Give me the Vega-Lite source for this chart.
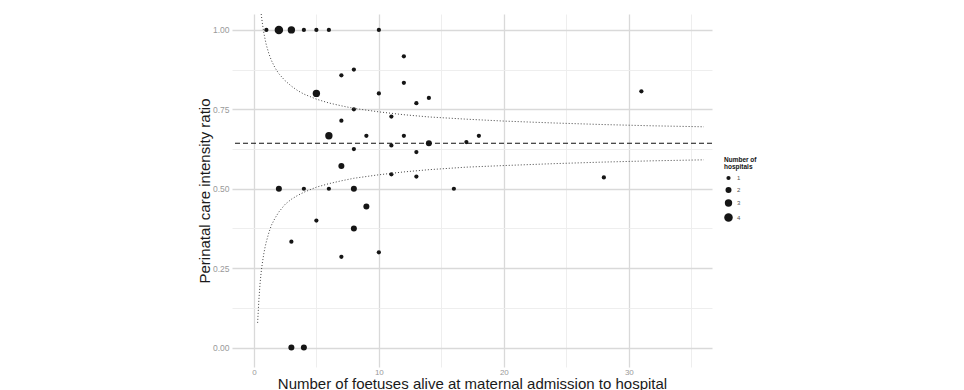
{
  "$schema": "https://vega.github.io/schema/vega-lite/v6.json",
  "width": 480,
  "height": 353,
  "autosize": {"type": "none"},
  "padding": {"left": 232, "top": 14, "right": 252, "bottom": 23},
  "background": "white",
  "config": {"view": {"stroke": null}, "font": "Liberation Sans"},
  "datasets": {
    "points": [
      {"x": 1, "y": 1.0, "n": 1}, {"x": 2, "y": 1.0, "n": 4}, {"x": 3, "y": 1.0, "n": 3},
      {"x": 4, "y": 1.0, "n": 1}, {"x": 5, "y": 1.0, "n": 1}, {"x": 6, "y": 1.0, "n": 1},
      {"x": 10, "y": 1.0, "n": 1}, {"x": 12, "y": 0.9167, "n": 1}, {"x": 7, "y": 0.8571, "n": 1},
      {"x": 8, "y": 0.875, "n": 1}, {"x": 5, "y": 0.8, "n": 3}, {"x": 10, "y": 0.8, "n": 1},
      {"x": 12, "y": 0.8333, "n": 1}, {"x": 13, "y": 0.7692, "n": 1}, {"x": 14, "y": 0.7857, "n": 1},
      {"x": 8, "y": 0.75, "n": 1}, {"x": 11, "y": 0.7273, "n": 1}, {"x": 7, "y": 0.7143, "n": 1},
      {"x": 31, "y": 0.8065, "n": 1}, {"x": 6, "y": 0.6667, "n": 3}, {"x": 9, "y": 0.6667, "n": 1},
      {"x": 12, "y": 0.6667, "n": 1}, {"x": 18, "y": 0.6667, "n": 1}, {"x": 11, "y": 0.6364, "n": 1},
      {"x": 14, "y": 0.6429, "n": 2}, {"x": 17, "y": 0.6471, "n": 1}, {"x": 8, "y": 0.625, "n": 1},
      {"x": 13, "y": 0.6154, "n": 1}, {"x": 7, "y": 0.5714, "n": 2}, {"x": 11, "y": 0.5455, "n": 1},
      {"x": 13, "y": 0.5385, "n": 1}, {"x": 28, "y": 0.5357, "n": 1}, {"x": 2, "y": 0.5, "n": 2},
      {"x": 4, "y": 0.5, "n": 1}, {"x": 6, "y": 0.5, "n": 1}, {"x": 8, "y": 0.5, "n": 2},
      {"x": 16, "y": 0.5, "n": 1}, {"x": 9, "y": 0.4444, "n": 2}, {"x": 5, "y": 0.4, "n": 1},
      {"x": 8, "y": 0.375, "n": 2}, {"x": 3, "y": 0.3333, "n": 1}, {"x": 10, "y": 0.3, "n": 1},
      {"x": 7, "y": 0.2857, "n": 1}, {"x": 3, "y": 0.0, "n": 2}, {"x": 4, "y": 0.0, "n": 2}
    ],
    "limits": [
      {"x": 0.3, "y": 1.21, "bound": "upper"}, {"x": 0.4, "y": 1.135, "bound": "upper"},
      {"x": 0.5, "y": 1.083, "bound": "upper"}, {"x": 0.6, "y": 1.045, "bound": "upper"},
      {"x": 0.7, "y": 1.015, "bound": "upper"}, {"x": 0.8, "y": 0.99, "bound": "upper"},
      {"x": 0.9, "y": 0.97, "bound": "upper"}, {"x": 1.0, "y": 0.952, "bound": "upper"},
      {"x": 1.2, "y": 0.925, "bound": "upper"}, {"x": 1.4, "y": 0.904, "bound": "upper"},
      {"x": 1.7, "y": 0.88, "bound": "upper"}, {"x": 2, "y": 0.862, "bound": "upper"},
      {"x": 2.5, "y": 0.84, "bound": "upper"}, {"x": 3, "y": 0.823, "bound": "upper"},
      {"x": 3.5, "y": 0.809, "bound": "upper"}, {"x": 4, "y": 0.798, "bound": "upper"},
      {"x": 5, "y": 0.782, "bound": "upper"}, {"x": 6, "y": 0.77, "bound": "upper"},
      {"x": 7, "y": 0.761, "bound": "upper"}, {"x": 8, "y": 0.753, "bound": "upper"},
      {"x": 10, "y": 0.742, "bound": "upper"}, {"x": 12, "y": 0.733, "bound": "upper"},
      {"x": 14, "y": 0.726, "bound": "upper"}, {"x": 17, "y": 0.719, "bound": "upper"},
      {"x": 20, "y": 0.713, "bound": "upper"}, {"x": 24, "y": 0.707, "bound": "upper"},
      {"x": 28, "y": 0.702, "bound": "upper"}, {"x": 32, "y": 0.698, "bound": "upper"},
      {"x": 36, "y": 0.695, "bound": "upper"},
      {"x": 0.3, "y": 0.078, "bound": "lower"}, {"x": 0.4, "y": 0.15, "bound": "lower"},
      {"x": 0.5, "y": 0.205, "bound": "lower"}, {"x": 0.6, "y": 0.243, "bound": "lower"},
      {"x": 0.7, "y": 0.272, "bound": "lower"}, {"x": 0.8, "y": 0.297, "bound": "lower"},
      {"x": 0.9, "y": 0.317, "bound": "lower"}, {"x": 1.0, "y": 0.334, "bound": "lower"},
      {"x": 1.2, "y": 0.362, "bound": "lower"}, {"x": 1.4, "y": 0.385, "bound": "lower"},
      {"x": 1.7, "y": 0.408, "bound": "lower"}, {"x": 2, "y": 0.427, "bound": "lower"},
      {"x": 2.5, "y": 0.451, "bound": "lower"}, {"x": 3, "y": 0.467, "bound": "lower"},
      {"x": 3.5, "y": 0.479, "bound": "lower"}, {"x": 4, "y": 0.489, "bound": "lower"},
      {"x": 5, "y": 0.505, "bound": "lower"}, {"x": 6, "y": 0.516, "bound": "lower"},
      {"x": 7, "y": 0.525, "bound": "lower"}, {"x": 8, "y": 0.533, "bound": "lower"},
      {"x": 10, "y": 0.544, "bound": "lower"}, {"x": 12, "y": 0.553, "bound": "lower"},
      {"x": 14, "y": 0.56, "bound": "lower"}, {"x": 17, "y": 0.568, "bound": "lower"},
      {"x": 20, "y": 0.573, "bound": "lower"}, {"x": 24, "y": 0.579, "bound": "lower"},
      {"x": 28, "y": 0.584, "bound": "lower"}, {"x": 32, "y": 0.588, "bound": "lower"},
      {"x": 36, "y": 0.591, "bound": "lower"}
    ],
    "mean": [{"y": 0.643}]
  },
  "layer": [
    {
      "data": {"name": "points"},
      "mark": {"type": "circle", "color": "#151515", "opacity": 1},
      "encoding": {
        "x": {
          "field": "x", "type": "quantitative",
          "scale": {"domain": [-1.75, 36.65], "nice": false, "zero": false},
          "axis": {
            "values": [0, 5, 10, 15, 20, 25, 30, 35],
            "labelExpr": "datum.value % 10 === 0 ? datum.label : ''",
            "labelOverlap": false,
            "title": "Number of foetuses alive at maternal admission to hospital",
            "domain": false, "ticks": false,
            "labelFontSize": 8, "labelColor": "#9a9a9a", "labelPadding": 1,
            "titleFontSize": 15, "titleFontWeight": "normal", "titleColor": "#1a1a1a", "titlePadding": 0,
            "gridColor": {"condition": {"test": "datum.value % 10 === 0", "value": "#d9d9d9"}, "value": "#ececec"},
            "gridWidth": {"condition": {"test": "datum.value % 10 === 0", "value": 1.3}, "value": 0.9}
          }
        },
        "y": {
          "field": "y", "type": "quantitative",
          "scale": {"domain": [-0.061, 1.05], "nice": false, "zero": false},
          "axis": {
            "values": [0, 0.125, 0.25, 0.375, 0.5, 0.625, 0.75, 0.875, 1],
            "labelExpr": "datum.value % 0.25 === 0 ? format(datum.value, '.2f') : ''",
            "labelOverlap": false,
            "title": "Perinatal care intensity ratio",
            "domain": false, "ticks": false,
            "labelFontSize": 8.5, "labelColor": "#999999", "labelPadding": 3,
            "titleFontSize": 15, "titleFontWeight": "normal", "titleColor": "#1a1a1a", "titlePadding": 0,
            "gridColor": {"condition": {"test": "datum.value % 0.25 === 0", "value": "#d9d9d9"}, "value": "#ececec"},
            "gridWidth": {"condition": {"test": "datum.value % 0.25 === 0", "value": 1.3}, "value": 0.9}
          }
        },
        "size": {
          "field": "n", "type": "quantitative",
          "scale": {"domain": [0, 4], "range": [0, 72]},
          "legend": {
            "title": ["Number of", "hospitals"],
            "values": [1, 2, 3, 4],
            "orient": "none", "legendX": 492, "legendY": 143,
            "titleFontSize": 6.5, "titleFontWeight": "bold", "titleColor": "#111", "titleLineHeight": 6.5,
            "titlePadding": 5,
            "labelFontSize": 6, "labelColor": "#555", "labelOffset": 4,
            "symbolFillColor": "#151515", "symbolStrokeWidth": 0, "symbolOpacity": 1,
            "rowPadding": 6
          }
        }
      }
    },
    {
      "data": {"name": "limits"},
      "mark": {"type": "line", "clip": true, "strokeDash": [1, 2], "color": "#444", "strokeWidth": 1},
      "encoding": {
        "x": {"field": "x", "type": "quantitative", "scale": {"domain": [-1.75, 36.65], "nice": false, "zero": false}},
        "y": {"field": "y", "type": "quantitative", "scale": {"domain": [-0.061, 1.05], "nice": false, "zero": false}},
        "detail": {"field": "bound"}
      }
    },
    {
      "data": {"name": "mean"},
      "mark": {"type": "rule", "strokeDash": [5, 3], "color": "#111", "strokeWidth": 1.1},
      "encoding": {
        "y": {"field": "y", "type": "quantitative", "scale": {"domain": [-0.061, 1.05], "nice": false, "zero": false}}
      }
    }
  ]
}
